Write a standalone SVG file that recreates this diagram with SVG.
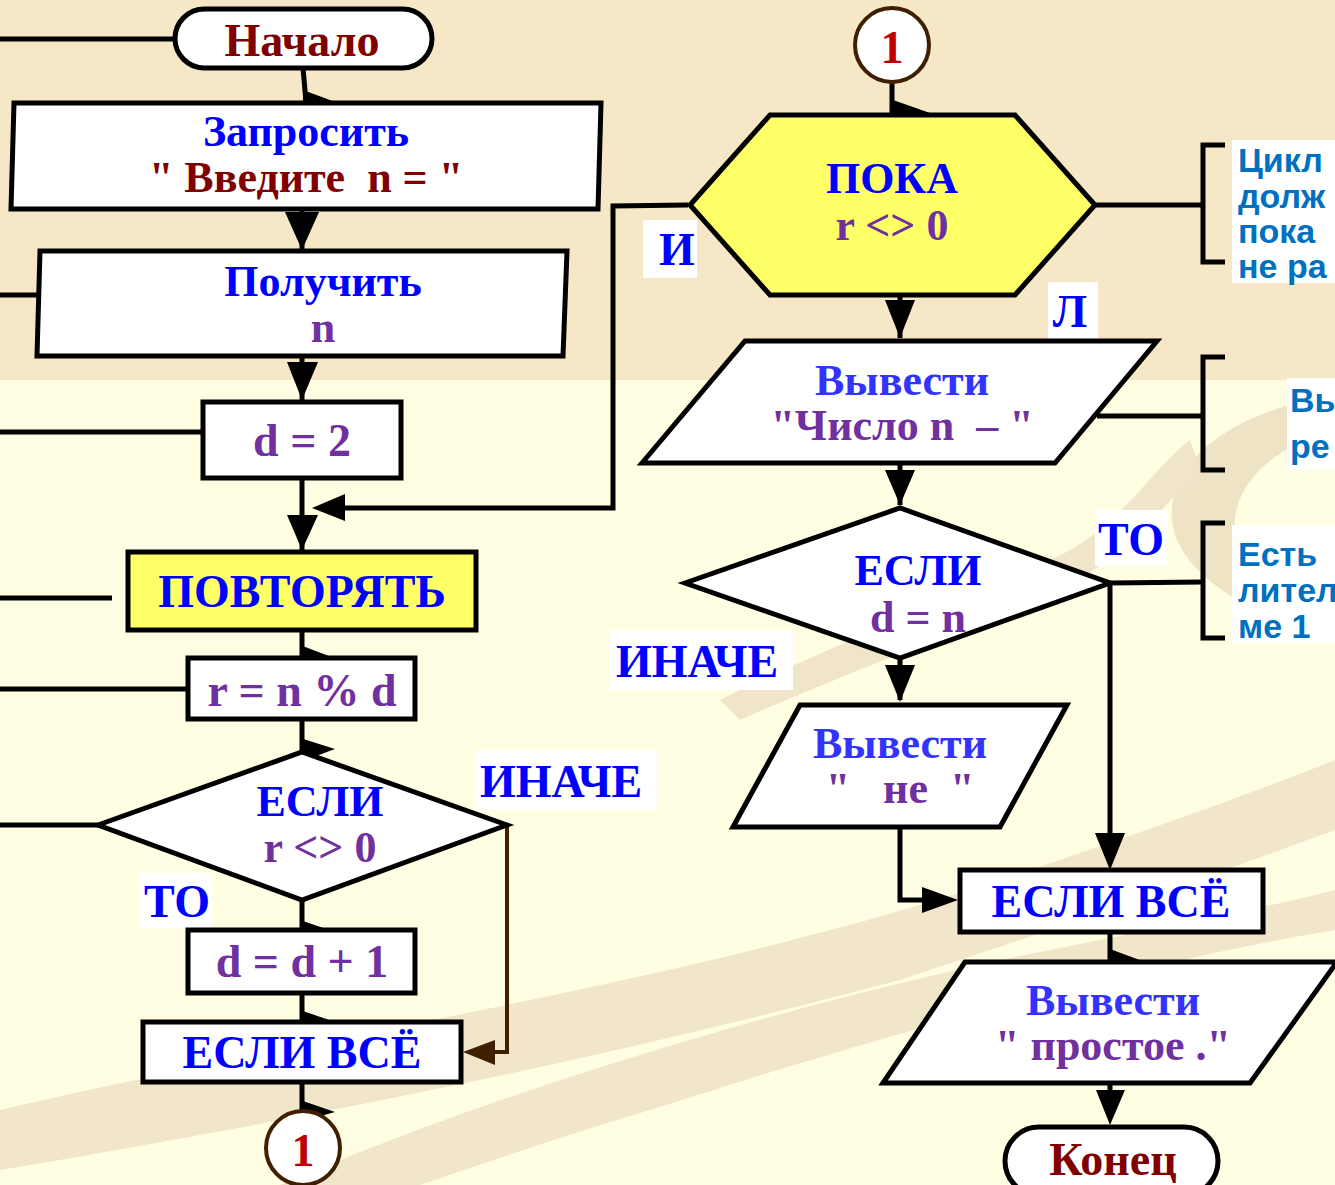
<svg xmlns="http://www.w3.org/2000/svg" width="1335" height="1185" viewBox="0 0 1335 1185">
<defs>
<style>
.box{fill:#fff;stroke:#000;stroke-width:5}
.yel{fill:#FFFF66;stroke:#000;stroke-width:5}
.ln{fill:none;stroke:#000;stroke-width:5}
.br{fill:none;stroke:#3F1F00;stroke-width:4}
.ah{fill:#000}
.t{font-family:"Liberation Serif","Times New Roman",serif;font-weight:bold;font-size:46px;text-anchor:middle;white-space:pre}
.t2{font-size:44px}
.blue{fill:#0000FF}
.lb{fill:#3333FF}
.pur{fill:#7030A0}
.dred{fill:#800000}
.red{fill:#C00000}
.s{font-family:"Liberation Sans",Arial,sans-serif;font-weight:bold;font-size:34px;fill:#0070C0}
.wb{fill:#fff}
</style>
</defs>
<g id="background">
<rect x="0" y="0" width="1335" height="1185" fill="#FFFDE2"/>
<rect x="0" y="0" width="1335" height="380" fill="#F6E8C7"/>
<path d="M0,1110 C300,1040 700,980 1000,880 C1150,830 1260,790 1335,760 L1335,830 C1200,880 1050,930 900,980 C600,1060 300,1120 0,1170 Z" fill="#F1E6C9"/>
<path d="M280,1185 C500,1090 800,1000 1050,950 C1200,920 1300,900 1335,890 L1335,930 C1150,960 900,1030 650,1110 C550,1140 480,1165 420,1185 Z" fill="#F1E6C9"/>
<path d="M1335,640 C1200,600 1150,540 1180,480 C1210,420 1300,400 1335,395 L1335,430 C1260,450 1220,500 1240,550 C1260,590 1300,610 1335,620 Z" fill="#EFE3C6"/>
<path d="M720,700 C820,650 950,600 1050,560 C1120,530 1150,470 1190,440 L1200,470 C1160,510 1120,560 1060,590 C960,630 830,680 740,720 Z" fill="#F0E5C8"/>
</g>
<g id="connectors">
<path class="ln" d="M0,39 H175"/>
<path class="ln" d="M303,68 L306,102"/>
<polygon class="ah" points="303,90 338,103 303,115"/>
<path class="ln" d="M302,210 V250"/>
<polygon class="ah" points="285,212 319,212 302,250"/>
<path class="ln" d="M0,295 H97"/>
<path class="ln" d="M302,357 V400"/>
<polygon class="ah" points="287,362 318,362 302,400"/>
<path class="ln" d="M0,432 H203"/>
<path class="ln" d="M302,478 V550"/>
<polygon class="ah" points="287,515 318,515 302,550"/>
<path class="ln" d="M688,205 L613,206 V508 H330"/>
<polygon class="ah" points="312,508 345,494 345,521"/>
<path class="ln" d="M0,598 H112"/>
<path class="ln" d="M302,630 V657"/>
<polygon class="ah" points="300,645 334,658 300,672"/>
<path class="ln" d="M0,689 H188"/>
<path class="ln" d="M302,719 V752"/>
<polygon class="ah" points="300,738 335,749 300,762"/>
<path class="ln" d="M0,825 H98"/>
<path class="br" d="M507,825 V1052 H490"/>
<polygon fill="#3F1F00" points="463,1052 495,1040 495,1065"/>
<path class="ln" d="M302,900 V930"/>
<polygon class="ah" points="300,920 335,932 300,945"/>
<path class="ln" d="M302,993 V1022"/>
<polygon class="ah" points="300,1010 335,1022 300,1034"/>
<path class="ln" d="M302,1082 V1112"/>
<polygon class="ah" points="300,1100 335,1112 300,1122"/>
<path class="ln" d="M892,82 V114"/>
<polygon class="ah" points="893,100 930,113 893,118"/>
<path class="ln" d="M1095,205 H1203"/>
<path class="ln" d="M1225,145 H1203 V262 H1225"/>
<path class="ln" d="M900,295 V338"/>
<polygon class="ah" points="885,300 915,300 900,338"/>
<path class="ln" d="M1097,416 H1203"/>
<path class="ln" d="M1225,357 H1203 V470 H1225"/>
<path class="ln" d="M900,463 V505"/>
<polygon class="ah" points="885,470 915,470 900,505"/>
<path class="ln" d="M1110,583 L1203,582"/>
<path class="ln" d="M1225,523 H1203 V638 H1225"/>
<path class="ln" d="M900,658 V700"/>
<polygon class="ah" points="885,665 915,665 900,702"/>
<path class="ln" d="M900,827 V900 H930"/>
<polygon class="ah" points="922,887 958,900 922,913"/>
<path class="ln" d="M1110,583 V840"/>
<polygon class="ah" points="1095,833 1125,833 1110,870"/>
<path class="ln" d="M1110,932 V962"/>
<polygon class="ah" points="1110,949 1145,962 1110,975"/>
<path class="ln" d="M1110,1083 V1100"/>
<polygon class="ah" points="1096,1090 1125,1090 1110,1125"/>
</g>
<g id="start">
<rect class="box" x="175" y="9" width="257" height="59" rx="29.5"/>
<text class="t dred" x="302" y="56">Начало</text>
</g>
<g id="ask">
<polygon class="box" points="14,103 601,103 598,209 11,209"/>
<text class="t t2 blue" x="306" y="146">Запросить</text>
<text class="t t2 dred" x="306" y="192">" Введите  n = "</text>
</g>
<g id="get">
<polygon class="box" points="40,251 567,251 563,356 37,356"/>
<text class="t t2 blue" x="323" y="296">Получить</text>
<text class="t t2 pur" x="323" y="342">n</text>
</g>
<g id="d2">
<rect class="box" x="203" y="402" width="198" height="76"/>
<text class="t pur" x="302" y="456">d = 2</text>
</g>
<g id="repeat">
<rect class="yel" x="128" y="552" width="348" height="78"/>
<text class="t blue" x="302" y="607">ПОВТОРЯТЬ</text>
</g>
<g id="mod">
<rect class="box" x="188" y="658" width="227" height="61"/>
<text class="t pur" x="302" y="706">r = n % d</text>
</g>
<g id="if1">
<polygon class="box" points="98,825 302,752 507,825 302,900"/>
<text class="t t2 blue" x="320" y="816">ЕСЛИ</text>
<text class="t t2 pur" x="320" y="862">r &lt;&gt; 0</text>
</g>
<g id="else1">
<rect class="wb" x="476" y="750" width="181" height="60"/>
<text class="t blue" x="561" y="797">ИНАЧЕ</text>
</g>
<g id="then1">
<rect class="wb" x="140" y="873" width="72" height="55"/>
<text class="t blue" x="177" y="917">ТО</text>
</g>
<g id="inc">
<rect class="box" x="188" y="930" width="227" height="63"/>
<text class="t pur" x="302" y="977">d = d + 1</text>
</g>
<g id="endif1">
<rect class="box" x="143" y="1022" width="318" height="60"/>
<text class="t blue" x="302" y="1068">ЕСЛИ ВСЁ</text>
</g>
<g id="conn1b">
<circle cx="303" cy="1148" r="37" fill="#fff" stroke="#3F1F00" stroke-width="4"/>
<text class="t red" x="303" y="1166">1</text>
</g>
<g id="conn1t">
<circle cx="892" cy="45" r="37" fill="#fff" stroke="#3F1F00" stroke-width="4"/>
<text class="t red" x="892" y="63">1</text>
</g>
<g id="while">
<polygon class="yel" points="690,205 770,115 1015,115 1095,205 1015,295 770,295"/>
<text class="t t2 blue" x="892" y="193">ПОКА</text>
<text class="t t2 pur" x="892" y="240">r &lt;&gt; 0</text>
</g>
<g id="lblI">
<rect class="wb" x="643" y="220" width="54" height="58"/>
<text class="t blue" x="677" y="265">И</text>
</g>
<g id="lblL">
<rect class="wb" x="1048" y="282" width="50" height="58"/>
<text class="t blue" x="1070" y="327">Л</text>
</g>
<g id="out1">
<polygon class="box" points="642,463 745,341 1157,341 1055,463"/>
<text class="t t2 lb" x="902" y="395">Вывести</text>
<text class="t t2 pur" x="902" y="440">"Число n  – "</text>
</g>
<g id="if2">
<polygon class="box" points="685,583 900,508 1110,583 900,658"/>
<text class="t t2 blue" x="918" y="585">ЕСЛИ</text>
<text class="t t2 pur" x="918" y="632">d = n</text>
</g>
<g id="then2">
<rect class="wb" x="1095" y="510" width="72" height="56"/>
<text class="t blue" x="1131" y="555">ТО</text>
</g>
<g id="else2">
<rect class="wb" x="610" y="630" width="183" height="60"/>
<text class="t blue" x="697" y="677">ИНАЧЕ</text>
</g>
<g id="out2">
<polygon class="box" points="733,827 800,705 1067,705 1000,827"/>
<text class="t t2 lb" x="900" y="758">Вывести</text>
<text class="t t2 pur" x="900" y="803">"   не  "</text>
</g>
<g id="endif2">
<rect class="box" x="960" y="870" width="303" height="62"/>
<text class="t blue" x="1111" y="917">ЕСЛИ ВСЁ</text>
</g>
<g id="out3">
<polygon class="box" points="883,1083 965,962 1337,962 1250,1083"/>
<text class="t t2 lb" x="1113" y="1015">Вывести</text>
<text class="t t2 pur" x="1113" y="1060">" простое ."</text>
</g>
<g id="end">
<rect class="box" x="1005" y="1127" width="213" height="68" rx="34"/>
<text class="t dred" x="1113" y="1175">Конец</text>
</g>
<g id="note1">
<rect class="wb" x="1232" y="140" width="103" height="143"/>
<text class="s" x="1238" y="172">Цикл</text>
<text class="s" x="1238" y="208">долж</text>
<text class="s" x="1238" y="243">пока</text>
<text class="s" x="1238" y="278">не ра</text>
</g>
<g id="note2">
<rect class="wb" x="1287" y="378" width="48" height="92"/>
<text class="s" x="1290" y="412">Вы</text>
<text class="s" x="1290" y="458">ре</text>
</g>
<g id="note3">
<rect class="wb" x="1232" y="525" width="103" height="118"/>
<text class="s" x="1238" y="566">Есть</text>
<text class="s" x="1238" y="602">лител</text>
<text class="s" x="1238" y="638">ме 1 </text>
</g>
</svg>
